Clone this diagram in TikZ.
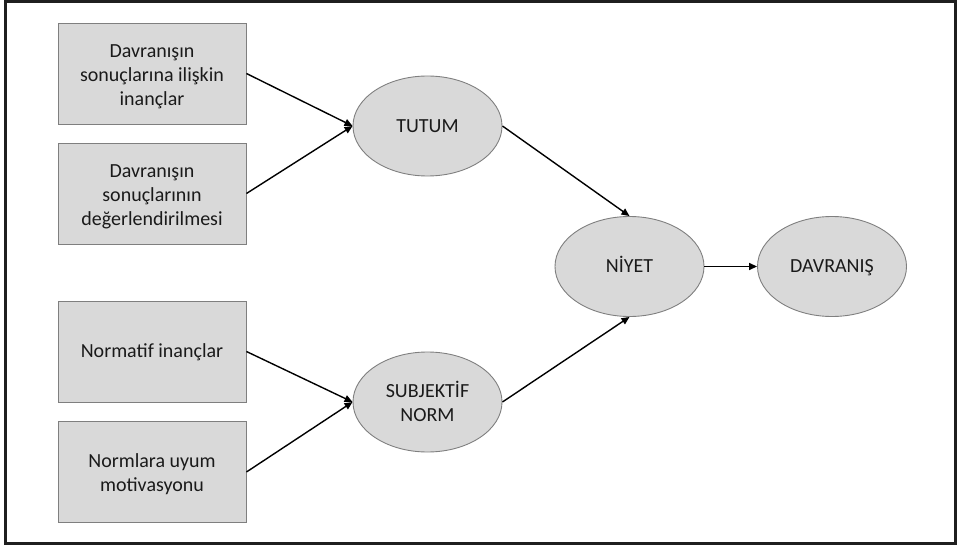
\documentclass[tikz,border=0pt]{standalone}
\usepackage{fontspec}
\setmainfont{Carlito}
\usetikzlibrary{shapes.geometric,arrows.meta}
\definecolor{boxfill}{HTML}{D9D9D9}
\definecolor{edgegray}{HTML}{7F7F7F}
\definecolor{txt}{HTML}{1A1A1A}
\begin{document}
\begin{tikzpicture}[x=1pt,y=-1pt,
  every node/.style={font=\fontsize{20}{24}\selectfont, text=txt},
  inbox/.style={draw=edgegray, line width=0.9pt, fill=boxfill, rectangle,
    minimum width=188pt, minimum height=101pt, inner sep=0pt, align=center},
  oval/.style={draw=edgegray, line width=0.9pt, fill=boxfill, ellipse,
    minimum width=149pt, minimum height=100pt, inner sep=0pt, align=center},
  oneline/.style={text height=14pt, text depth=1.2pt},
  twolines/.style={text height=40pt, text depth=2pt},
  threelines/.style={text height=65.6pt, text depth=2pt},
  conn/.style={draw=black, line width=1.4pt, -{Triangle[length=8pt,width=7pt]}}
]
\useasboundingbox (0,0) rectangle (957,545);
\draw[line width=3pt, color=black!88] (5.5,1.5) rectangle (955.5,543.5);

\node[inbox, threelines] (b1) at (152,73.5) {Davranışın\\sonuçlarına ilişkin\\inançlar};
\node[inbox, threelines] (b2) at (152,193.5) {Davranışın\\sonuçlarının\\değerlendirilmesi};
\node[inbox, oneline] (b3) at (152,351.5) {Normatif inançlar};
\node[inbox, twolines] (b4) at (152,472) {Normlara uyum\\motivasyonu};

\node[oval, oneline] (tutum) at (427.5,126) {TUTUM};
\node[oval, text height=41.4pt, text depth=2pt] (sn) at (427.5,402) {SUBJEKTİF\\NORM};
\node[oval, oneline] (niyet) at (629.5,266.5) {NİYET};
\node[oval, oneline] (davr) at (832,266.5) {DAVRANIŞ};

\draw[conn] (b1.east) -- (tutum.west);
\draw[conn] (b2.east) -- (tutum.west);
\draw[conn] (b3.east) -- (sn.west);
\draw[conn] (b4.east) -- (sn.west);
\draw[conn] (tutum.east) -- (niyet.north);
\draw[conn] (sn.east) -- (niyet.south);
\draw[conn] (niyet.east) -- (davr.west);
\end{tikzpicture}
\end{document}
